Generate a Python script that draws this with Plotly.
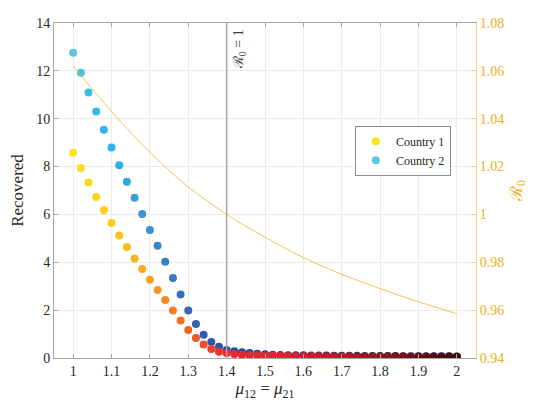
import plotly.graph_objects as go

# mu_12 = mu_21 grid, step 0.02
mu = [1.00, 1.02, 1.04, 1.06, 1.08, 1.10, 1.12, 1.14, 1.16, 1.18,
      1.20, 1.22, 1.24, 1.26, 1.28, 1.30, 1.32, 1.34, 1.36, 1.38,
      1.40, 1.42, 1.44, 1.46, 1.48, 1.50, 1.52, 1.54, 1.56, 1.58,
      1.60, 1.62, 1.64, 1.66, 1.68, 1.70, 1.72, 1.74, 1.76, 1.78,
      1.80, 1.82, 1.84, 1.86, 1.88, 1.90, 1.92, 1.94, 1.96, 1.98, 2.00]

recovered_c1 = [8.58, 7.94, 7.33, 6.73, 6.18, 5.64, 5.12, 4.64, 4.16, 3.72,
                3.27, 2.84, 2.42, 1.99, 1.57, 1.17, 0.84, 0.56, 0.38, 0.26,
                0.21, 0.17, 0.14, 0.12, 0.11, 0.10, 0.09, 0.09, 0.08, 0.08,
                0.08, 0.08, 0.07, 0.07, 0.07, 0.07, 0.07, 0.06, 0.06, 0.06,
                0.06, 0.06, 0.06, 0.06, 0.05, 0.05, 0.05, 0.05, 0.05, 0.05, 0.05]

recovered_c2 = [12.76, 11.92, 11.10, 10.30, 9.54, 8.80, 8.06, 7.37, 6.70, 6.02,
                5.35, 4.69, 4.02, 3.34, 2.65, 1.99, 1.42, 0.97, 0.67, 0.47,
                0.33, 0.28, 0.24, 0.21, 0.18, 0.16, 0.14, 0.13, 0.12, 0.11,
                0.11, 0.10, 0.10, 0.10, 0.09, 0.09, 0.09, 0.09, 0.08, 0.08,
                0.08, 0.08, 0.08, 0.07, 0.07, 0.07, 0.07, 0.07, 0.07, 0.07, 0.06]

# basic reproduction number along the same axis
mu_r0 = [1.0, 1.1, 1.2, 1.3, 1.4, 1.5, 1.6, 1.7, 1.8, 1.9, 2.0]
r0 = [1.062, 1.043, 1.026, 1.0115, 1.000, 0.9905, 0.982, 0.975, 0.969, 0.9635, 0.9585]

GOLD = "#EDB120"
SERIF = "Liberation Serif, DejaVu Serif, serif"

scale_c1 = [[0, "#F9E31B"], [0.1, "#FFCB1A"], [0.2, "#F7A51F"], [0.3, "#F06427"],
            [0.4, "#EA2A2C"], [0.55, "#E02330"], [0.7, "#B01A26"],
            [0.85, "#7A1219"], [1, "#380A0D"]]
scale_c2 = [[0, "#5DC7DB"], [0.04, "#35BEE8"], [0.12, "#2EAEE8"], [0.2, "#3A8FD0"],
            [0.3, "#3568B8"], [0.4, "#2D4C9E"], [0.6, "#283A85"], [1, "#1A2050"]]

fig = go.Figure()

fig.add_trace(go.Scatter(
    x=mu_r0, y=r0, yaxis="y2", mode="lines", line_shape="spline",
    line=dict(color=GOLD, width=1), opacity=0.75, showlegend=False))

# country 2 first so country 1 sits on top like the original
fig.add_trace(go.Scatter(
    x=mu, y=recovered_c2, mode="markers", name="Country 2", legendrank=2,
    marker=dict(size=8, color=mu, colorscale=scale_c2, cmin=1, cmax=2)))
fig.add_trace(go.Scatter(
    x=mu, y=recovered_c1, mode="markers", name="Country 1", legendrank=1,
    marker=dict(size=8, color=mu, colorscale=scale_c1, cmin=1, cmax=2)))

fig.add_shape(type="line", x0=1.4, x1=1.4, xref="x", y0=0, y1=1, yref="paper",
              line=dict(color="#A6A6A6", width=1.5))
fig.add_annotation(x=1.4, xref="x", y=1, yref="paper", xanchor="left", yanchor="top",
                   xshift=2, yshift=-4, textangle=-90, showarrow=False,
                   text="ℛ<sub>0</sub> = 1", font=dict(family=SERIF, size=14, color="#404040"))

# page body adds an 8px offset, so the figure is sized a little smaller
fig.update_layout(
    width=533, height=399,
    margin=dict(l=46, r=65, t=15, b=49),
    plot_bgcolor="white", paper_bgcolor="white",
    font=dict(family=SERIF, size=14, color="#262626"),
    xaxis=dict(range=[0.95, 2.05], dtick=0.1, tick0=1, showgrid=True, gridcolor="#EBEBEB",
               showline=True, linecolor="#A6A6A6", mirror="ticks", ticks="inside",
               ticklen=4, tickcolor="#A6A6A6", zeroline=False, automargin=False,
               title=dict(text="<i>μ</i><sub>12</sub> = <i>μ</i><sub>21</sub>", standoff=4)),
    yaxis=dict(range=[0, 14], dtick=2, showgrid=True, gridcolor="#EBEBEB",
               showline=True, linecolor="#A6A6A6", ticks="inside", ticklen=4,
               tickcolor="#A6A6A6", zeroline=False, automargin=False,
               title=dict(text="Recovered", standoff=10)),
    yaxis2=dict(range=[0.94, 1.08], dtick=0.02, overlaying="y", side="right",
                showgrid=False, showline=True, linecolor="#F0D48C", ticks="inside",
                ticklen=4, tickcolor="#F0D48C", zeroline=False, automargin=False,
                tickfont=dict(color=GOLD),
                title=dict(text="ℛ<sub>0</sub>", font=dict(color=GOLD), standoff=6)),
    legend=dict(x=0.713, y=0.693, xanchor="left", yanchor="top", bgcolor="white",
                bordercolor="#8C8C8C", borderwidth=1, font=dict(size=12),
                tracegroupgap=0, itemwidth=30),
)

fig.write_html("out.html")
